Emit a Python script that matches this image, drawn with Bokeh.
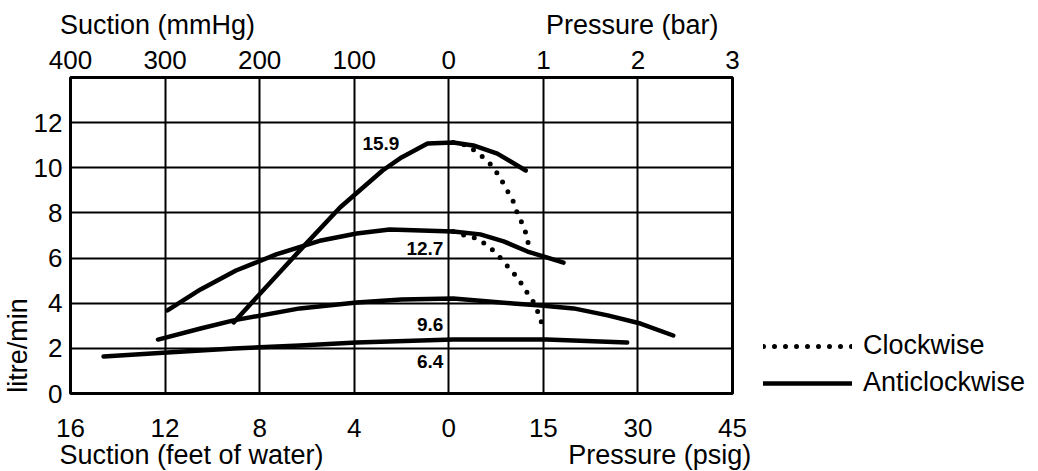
from bokeh.plotting import figure
from bokeh.models import (LinearAxis, FixedTicker, Legend, LegendItem, ColumnDataSource, Range1d)
from bokeh.core.properties import value
from bokeh.embed import file_html
from bokeh.resources import INLINE

# ---------------- data ----------------
# x: negative = suction (feet of water), positive = pressure (psig); y = litre/min
ac_159_x = [-9.1, -6.3, -4.6, -2.8, -2.0, -0.9, 0.7, 3.9, 7.7, 12.2]
ac_159_y = [3.15, 6.34, 8.24, 9.88, 10.46, 11.08, 11.12, 10.99, 10.63, 9.88]
cw_159_x = [0.7, 3.0, 4.5, 6.1, 7.2, 8.2, 9.1, 10.1, 10.7, 11.5, 12.2, 12.6, 12.9]
cw_159_y = [11.12, 10.99, 10.68, 10.32, 9.97, 9.53, 9.08, 8.60, 8.11, 7.62, 7.13, 6.65, 6.42]

ac_127_x = [-11.9, -10.5, -9.0, -7.3, -5.4, -3.9, -2.5, 0.7, 5.0, 8.7, 12.5, 18.2]
ac_127_y = [3.68, 4.61, 5.45, 6.16, 6.78, 7.09, 7.27, 7.18, 7.05, 6.74, 6.29, 5.80]
cw_127_x = [0.7, 2.6, 4.5, 6.1, 7.6, 8.8, 10.1, 11.2, 12.2, 13.3, 14.1, 14.7]
cw_127_y = [7.18, 7.0, 6.87, 6.56, 6.20, 5.80, 5.40, 5.0, 4.56, 4.12, 3.63, 3.15]

ac_96_x = [-12.3, -10.5, -9.1, -6.3, -3.9, -2.0, 0.7, 10.2, 14.6, 19.8, 25.2, 30.4, 35.6]
ac_96_y = [2.39, 2.88, 3.24, 3.77, 4.03, 4.16, 4.21, 3.99, 3.90, 3.77, 3.46, 3.10, 2.57]

ac_64_x = [-14.6, -11.9, -9.1, -6.3, -3.9, 0.7, 8.2, 15.5, 24.0, 28.3]
ac_64_y = [1.64, 1.82, 1.99, 2.13, 2.26, 2.39, 2.39, 2.39, 2.30, 2.26]

curve_labels = ["15.9", "12.7", "9.6", "6.4"]
curve_label_y = [11.08, 6.42, 3.06, 1.42]

bottom_tick_labels = ["16", "12", "8", "4", "0", "15", "30", "45"]
top_tick_labels = ["400", "300", "200", "100", "0", "1", "2", "3"]
y_ticks = [0, 2, 4, 6, 8, 10, 12]

top_titles = ["Suction (mmHg)", "Pressure (bar)"]
bottom_titles = ["Suction (feet of water)", "Pressure (psig)"]
y_title = "litre/min"

FONT = "Liberation Sans"


def xpos(v):
    # piecewise scale: 4 ft of water per grid cell on suction side, 15 psig per cell on pressure side
    return 4 + v / 4.0 if v < 0 else 4 + v / 15.0


def conv(xs):
    return [xpos(v) for v in xs]


p = figure(frame_width=662, frame_height=316, output_backend="svg", toolbar_location=None,
           x_range=Range1d(0, 7), y_range=Range1d(0, 14),
           x_axis_location=None, y_axis_location=None,
           min_border_left=70, min_border_right=290, min_border_top=77, min_border_bottom=70)
p.background_fill_color = "white"
p.border_fill_color = "white"
p.outline_line_color = "black"
p.outline_line_width = 3
p.outline_line_alpha = 1

# grid
p.xgrid.ticker = FixedTicker(ticks=[1, 2, 3, 4, 5, 6])
p.ygrid.ticker = FixedTicker(ticks=[2, 4, 6, 8, 10, 12])
for g in (p.xgrid, p.ygrid):
    g.grid_line_color = "black"
    g.grid_line_width = 2
    g.grid_line_alpha = 1


def style_axis(ax, standoff, size="26px"):
    ax.axis_line_color = None
    ax.major_tick_line_color = None
    ax.minor_tick_line_color = None
    ax.major_tick_in = 0
    ax.major_tick_out = 0
    ax.minor_tick_in = 0
    ax.minor_tick_out = 0
    ax.major_label_text_font = FONT
    ax.major_label_text_font_size = size
    ax.major_label_text_color = "black"
    ax.major_label_standoff = standoff


# tick-label axes
bottom = LinearAxis(ticker=FixedTicker(ticks=list(range(8))),
                    major_label_overrides={i: t for i, t in enumerate(bottom_tick_labels)})
style_axis(bottom, 25)
p.add_layout(bottom, "below")

top = LinearAxis(ticker=FixedTicker(ticks=list(range(8))),
                 major_label_overrides={i: t for i, t in enumerate(top_tick_labels)})
style_axis(top, 9)
p.add_layout(top, "above")

left = LinearAxis(ticker=FixedTicker(ticks=y_ticks))
style_axis(left, 8)
p.add_layout(left, "left")

# title axes (split titles placed at their own positions)
top_title_pos = [0.92, 5.94]
top_t = LinearAxis(ticker=FixedTicker(ticks=top_title_pos),
                   major_label_overrides={k: t for k, t in zip(top_title_pos, top_titles)})
style_axis(top_t, 8, "27px")
p.add_layout(top_t, "above")

bottom_title_pos = [1.28, 6.23]
bottom_t = LinearAxis(ticker=FixedTicker(ticks=bottom_title_pos),
                      major_label_overrides={k: t for k, t in zip(bottom_title_pos, bottom_titles)})
style_axis(bottom_t, 0, "27px")
p.add_layout(bottom_t, "below")

y_title_pos = [2.13]
left_t = LinearAxis(ticker=FixedTicker(ticks=y_title_pos),
                    major_label_overrides={y_title_pos[0]: y_title},
                    major_label_orientation="vertical")
style_axis(left_t, -3, "27px")
p.add_layout(left_t, "left")

# curves
solid_kw = dict(line_color="black", line_width=4.5, line_cap="round", line_join="round")
dot_kw = dict(line_color="black", line_width=5, line_cap="round", line_dash="0 11")

r_solid = p.line(conv(ac_159_x), ac_159_y, **solid_kw)
p.line(conv(ac_127_x), ac_127_y, **solid_kw)
p.line(conv(ac_96_x), ac_96_y, **solid_kw)
p.line(conv(ac_64_x), ac_64_y, **solid_kw)
r_dot = p.line(conv(cw_159_x), cw_159_y, **dot_kw)
p.line(conv(cw_127_x), cw_127_y, **dot_kw)

# curve labels
lbl_x = [3.478, 3.943, 3.943, 3.943]
src = ColumnDataSource(dict(x=lbl_x, y=curve_label_y, t=curve_labels))
p.text(x="x", y="y", text="t", source=src, text_font=value(FONT), text_font_size="19px",
       text_font_style="bold", text_align="right", text_baseline="middle", text_color="black")

legend = Legend(items=[LegendItem(label="Clockwise", renderers=[r_dot]),
                       LegendItem(label="Anticlockwise", renderers=[r_solid])],
                location=(31, -5), glyph_width=89, glyph_height=30, label_height=30,
                spacing=6, padding=0, margin=0, label_standoff=11,
                border_line_color=None, background_fill_alpha=0,
                label_text_font=FONT, label_text_font_size="27px", label_text_color="black",
                label_text_baseline="middle")
p.add_layout(legend, "right")

open("out.html", "w").write(file_html(p, INLINE))
